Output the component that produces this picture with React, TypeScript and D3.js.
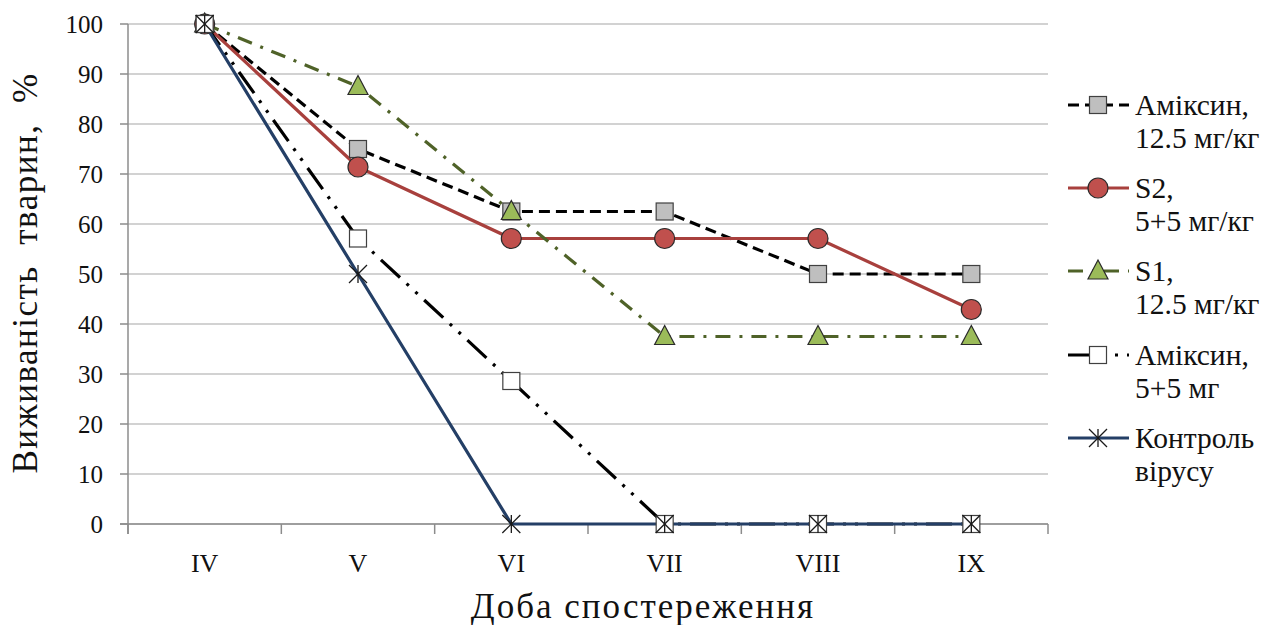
import React from "react";
import * as d3 from "d3";

const categories = ["IV", "V", "VI", "VII", "VIII", "IX"];
const yTicks = [0, 10, 20, 30, 40, 50, 60, 70, 80, 90, 100];
const amixin125 = [100, 75, 62.5, 62.5, 50, 50];
const s2 = [100, 71.4, 57.1, 57.1, 57.1, 42.9];
const s1 = [100, 87.5, 62.5, 37.5, 37.5, 37.5];
const amixin55 = [100, 57.1, 28.6, 0, 0, 0];
const control = [100, 50, 0, 0, 0, 0];

const legendLabels = [
  ["Аміксин,", "12.5 мг/кг"],
  ["S2,", "5+5 мг/кг"],
  ["S1,", "12.5 мг/кг"],
  ["Аміксин,", "5+5 мг"],
  ["Контроль", "вірусу"],
];

type Marker = "sqGray" | "circle" | "tri" | "sqWhite" | "star";
const series = [
  { values: amixin125, color: "#000000", dash: "11 6", marker: "sqGray" as Marker, legend: legendLabels[0] },
  { values: s2, color: "#a8403d", dash: "", marker: "circle" as Marker, legend: legendLabels[1] },
  { values: s1, color: "#4f6228", dash: "15 9 3 9", marker: "tri" as Marker, legend: legendLabels[2] },
  { values: amixin55, color: "#000000", dash: "26 9 3 9 3 9", marker: "sqWhite" as Marker, legend: legendLabels[3] },
  { values: control, color: "#243f66", dash: "", marker: "star" as Marker, legend: legendLabels[4] },
];

const FONT = "Liberation Serif, Times New Roman, serif";
const tStyle = { fontFamily: FONT };

function MarkerShape({ type, x, y }: { type: Marker; x: number; y: number }) {
  if (type === "sqGray")
    return <rect x={x - 8.5} y={y - 8.5} width={17} height={17} fill="#bfbfbf" stroke="#404040" strokeWidth={1.2} />;
  if (type === "sqWhite")
    return <rect x={x - 8.5} y={y - 8.5} width={17} height={17} fill="#ffffff" stroke="#404040" strokeWidth={1.2} />;
  if (type === "circle")
    return <circle cx={x} cy={y} r={10} fill="#c0504d" stroke="#2a2a2a" strokeWidth={1.2} />;
  if (type === "tri")
    return (
      <path
        d={`M${x},${y - 11}L${x + 10},${y + 8}L${x - 10},${y + 8}Z`}
        fill="#9bbb59"
        stroke="#2a2a2a"
        strokeWidth={1.2}
      />
    );
  const s = 9;
  return (
    <g stroke="#1a1a1a" strokeWidth={1.3}>
      <line x1={x - s} y1={y - s} x2={x + s} y2={y + s} />
      <line x1={x - s} y1={y + s} x2={x + s} y2={y - s} />
      <line x1={x} y1={y - s} x2={x} y2={y + s} />
    </g>
  );
}

export default function App() {
  const W = 1269;
  const H = 625;
  const left = 128;
  const right = 1048;
  const top = 24;
  const bottom = 524;

  const x = d3.scaleBand<string>().domain(categories).range([left, right]);
  const cx = (c: string) => (x(c) as number) + x.bandwidth() / 2;
  const y = d3.scaleLinear().domain([0, 100]).range([bottom, top]);
  const line = d3
    .line<number>()
    .x((_, i) => cx(categories[i]))
    .y((d) => y(d));

  const boundaries = categories.map((c) => x(c) as number).concat([right]);
  const legendY = [105, 188, 271, 355, 438];

  return (
    <svg width={W} height={H} style={{ position: "absolute", left: 0, top: 0, background: "#fff" }}>
      {yTicks.map((t) => (
        <line key={"g" + t} x1={left} x2={right} y1={y(t)} y2={y(t)} stroke="#a6a6a6" strokeWidth={1.2} />
      ))}
      <line x1={left} x2={left} y1={top} y2={bottom + 10} stroke="#8c8c8c" strokeWidth={1.5} />
      {yTicks.map((t) => (
        <g key={"yt" + t}>
          <line x1={left - 8} x2={left} y1={y(t)} y2={y(t)} stroke="#8c8c8c" strokeWidth={1.5} />
          <text x={103} y={y(t)} dy="0.35em" textAnchor="end" fontSize={25} fill="#111" style={tStyle}>
            {t}
          </text>
        </g>
      ))}
      <line x1={left - 8} x2={right} y1={bottom} y2={bottom} stroke="#8c8c8c" strokeWidth={1.5} />
      {boundaries.map((b, i) => (
        <line key={"xt" + i} x1={b} x2={b} y1={bottom} y2={bottom + 10} stroke="#8c8c8c" strokeWidth={1.5} />
      ))}
      {categories.map((c) => (
        <text key={"xl" + c} x={cx(c)} y={563} dy="0.35em" textAnchor="middle" fontSize={26} fill="#111" style={tStyle}>
          {c}
        </text>
      ))}
      <text x={643} y={606} dy="0.35em" textAnchor="middle" fontSize={35} letterSpacing={2} fill="#111" style={tStyle}>
        Доба спостереження
      </text>
      <text
        transform={`translate(25,${273}) rotate(-90)`}
        dy="0.35em"
        textAnchor="middle"
        fontSize={35}
        letterSpacing={1.5}
        fill="#111"
        style={{ ...tStyle, whiteSpace: "pre" }}
      >
        {"Виживаність  тварин,  %"}
      </text>
      {series.map((s, i) => (
        <path
          key={"l" + i}
          d={line(s.values) || ""}
          fill="none"
          stroke={s.color}
          strokeWidth={3.2}
          strokeDasharray={s.dash || undefined}
          strokeLinejoin="round"
        />
      ))}
      {series.map((s, i) => (
        <g key={"m" + i}>
          {s.values.map((v, j) => (
            <MarkerShape key={j} type={s.marker} x={cx(categories[j])} y={y(v)} />
          ))}
        </g>
      ))}
      {series.map((s, i) => (
        <g key={"lg" + i}>
          <line
            x1={1068}
            x2={1129}
            y1={legendY[i]}
            y2={legendY[i]}
            stroke={s.color}
            strokeWidth={3.2}
            strokeDasharray={s.dash || undefined}
          />
          <MarkerShape type={s.marker} x={1098} y={legendY[i]} />
          <text x={1135} y={legendY[i]} dy="0.35em" fontSize={29.5} fill="#111" style={tStyle}>
            {s.legend[0]}
          </text>
          <text x={1135} y={legendY[i] + 33} dy="0.35em" fontSize={29.5} fill="#111" style={tStyle}>
            {s.legend[1]}
          </text>
        </g>
      ))}
    </svg>
  );
}
